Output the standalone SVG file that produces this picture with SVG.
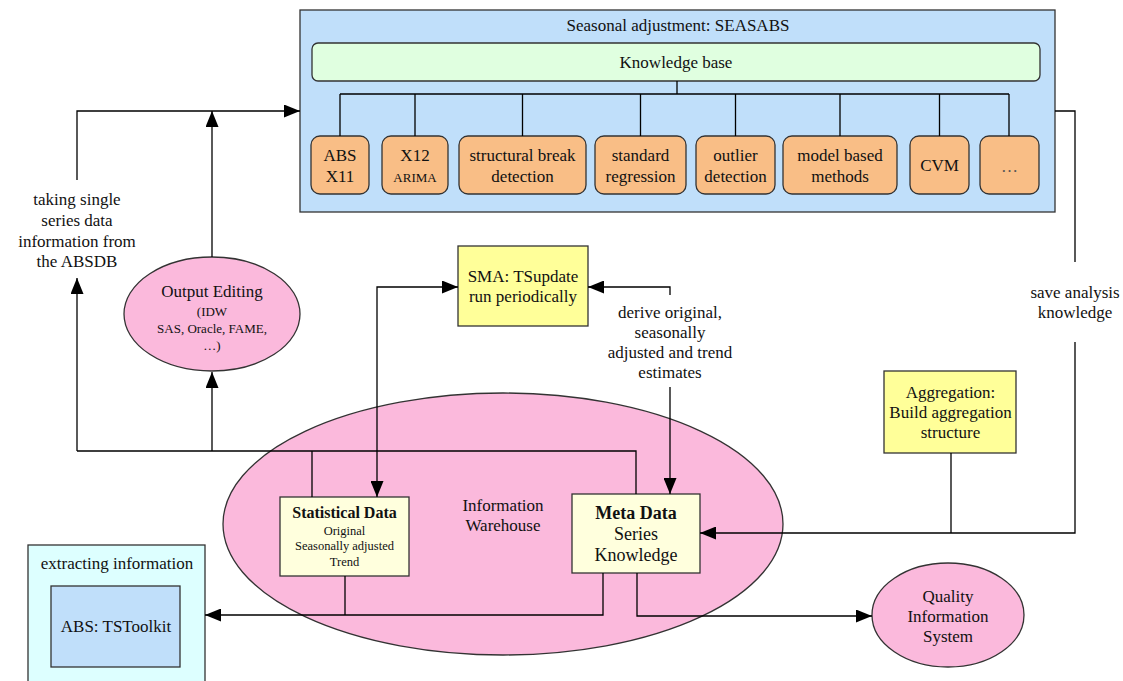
<svg xmlns="http://www.w3.org/2000/svg" width="1123" height="681" viewBox="0 0 1123 681">
<defs>
<marker id="ah" markerUnits="userSpaceOnUse" markerWidth="16" markerHeight="13" refX="16" refY="6.5" orient="auto-start-reverse" viewBox="0 0 16 13">
<path d="M0,0 L16,6.5 L0,13 z" fill="#000"/>
</marker>
</defs>
<style>
text{font-family:"Liberation Serif","Times New Roman",serif;font-size:17px;fill:#111;text-anchor:middle}
.sm{font-size:13px}
.xs{font-size:12.5px}
.b{font-weight:bold}
.box{stroke:#333;stroke-width:1.3}
.blue{fill:#c0dffa}
.orange{fill:#f9be86}
.pink{fill:#fbb9dc}
.yellow{fill:#ffff99}
.cream{fill:#ffffdd}
.cyan{fill:#ddffff}
.green{fill:#e0ffe0}
.ln{fill:none;stroke:#000;stroke-width:1.3}
.arr{marker-end:url(#ah)}
</style>
<rect width="1123" height="681" fill="#fff"/>

<g id="seasabs">
<rect class="box blue" x="300" y="10" width="755" height="202"/>
<text x="678" y="31">Seasonal adjustment: SEASABS</text>
</g>
<g id="knowledge-base">
<rect class="box green" x="312" y="43" width="728" height="38" rx="6"/>
<text x="676" y="68">Knowledge base</text>
</g>
<g id="abs-x11">
<rect class="box orange" x="311" y="136" width="58" height="58" rx="9"/>
<text x="340" y="161">ABS</text><text x="340" y="182">X11</text>
</g>
<g id="x12-arima">
<rect class="box orange" x="382" y="136" width="66" height="58" rx="9"/>
<text x="415" y="161">X12</text><text class="sm" x="415" y="182">ARIMA</text>
</g>
<g id="structural-break">
<rect class="box orange" x="459" y="136" width="127" height="58" rx="9"/>
<text x="522.5" y="161">structural break</text><text x="522.5" y="182">detection</text>
</g>
<g id="standard-regression">
<rect class="box orange" x="595" y="136" width="91" height="58" rx="9"/>
<text x="640.5" y="161">standard</text><text x="640.5" y="182">regression</text>
</g>
<g id="outlier-detection">
<rect class="box orange" x="696" y="136" width="79" height="58" rx="9"/>
<text x="735.5" y="161">outlier</text><text x="735.5" y="182">detection</text>
</g>
<g id="model-based">
<rect class="box orange" x="783" y="136" width="114" height="58" rx="9"/>
<text x="840" y="161">model based</text><text x="840" y="182">methods</text>
</g>
<g id="cvm">
<rect class="box orange" x="910" y="136" width="59" height="58" rx="9"/>
<text x="939.5" y="171">CVM</text>
</g>
<g id="more">
<rect class="box orange" x="980" y="136" width="59" height="58" rx="9"/>
<text x="1009.5" y="172" style="fill:#555">…</text>
</g>

<g id="output-editing">
<ellipse class="box pink" cx="212" cy="314" rx="88" ry="57"/>
<text x="212" y="297">Output Editing</text>
<text class="sm" x="212" y="316">(IDW</text>
<text class="sm" x="212" y="333">SAS, Oracle, FAME,</text>
<text class="sm" x="212" y="350">…)</text>
</g>

<g id="sma">
<rect class="box yellow" x="458" y="246" width="130" height="80"/>
<text x="523" y="282">SMA: TSupdate</text>
<text x="523" y="302">run periodically</text>
</g>

<g id="aggregation">
<rect class="box yellow" x="884" y="371" width="132" height="82"/>
<text x="950.5" y="398">Aggregation:</text>
<text x="950.5" y="418">Build aggregation</text>
<text x="950.5" y="438">structure</text>
</g>

<g id="information-warehouse">
<ellipse class="box pink" cx="503" cy="524" rx="280" ry="131"/>
<text x="503" y="511">Information</text>
<text x="503" y="531">Warehouse</text>
</g>

<g id="statistical-data">
<rect class="box cream" x="280" y="497" width="129" height="79"/>
<text class="b" x="344.5" y="518" style="font-size:16px">Statistical Data</text>
<text class="xs" x="344.5" y="535">Original</text>
<text class="xs" x="344.5" y="550">Seasonally adjusted</text>
<text class="xs" x="344.5" y="566">Trend</text>
</g>

<g id="meta-data">
<rect class="box cream" x="572" y="494" width="128" height="79"/>
<text class="b" x="636" y="519" style="font-size:18px">Meta Data</text>
<text x="636" y="540" style="font-size:18px">Series</text>
<text x="636" y="561" style="font-size:18px">Knowledge</text>
</g>

<g id="quality-information-system">
<ellipse class="box pink" cx="948" cy="615" rx="76" ry="52"/>
<text x="948" y="602">Quality</text>
<text x="948" y="622">Information</text>
<text x="948" y="642">System</text>
</g>

<g id="extracting-information">
<rect class="box cyan" x="28" y="545" width="177" height="145"/>
<text x="117" y="569">extracting information</text>
</g>
<g id="tstoolkit">
<rect class="box blue" x="51" y="586" width="129" height="81"/>
<text x="116" y="632">ABS: TSToolkit</text>
</g>

<g id="connectors">
<path class="ln" d="M677,81 V94 M340,94 H1009 M340,94 V136 M415,94 V136 M522.5,94 V136 M640.5,94 V136 M735.5,94 V136 M840,94 V136 M939.5,94 V136 M1009,94 V136"/>
<path class="ln arr" d="M77,180 V111 H300"/>
<path class="ln arr" d="M212,257 V111"/>
<path class="ln" d="M77,451 H636 V494 M312,451 V497"/>
<path class="ln arr" d="M77,451 V278"/>
<path class="ln arr" d="M212,451 V372"/>
<path class="ln arr" d="M377,497 V287 H458" style="marker-start:url(#ah)"/>
<path class="ln arr" d="M670,295 V287 H588"/>
<path class="ln arr" d="M670,387 V494"/>
<path class="ln" d="M1055,111 H1075 V262"/>
<path class="ln arr" d="M1075,342 V533 H700"/>
<path class="ln" d="M951,453 V533"/>
<path class="ln arr" d="M603,573 V615 H205"/>
<path class="ln" d="M345,576 V615"/>
<path class="ln arr" d="M637,573 V616 H872"/>
</g>

<g id="labels">
<text x="77" y="205">taking single</text>
<text x="77" y="226">series data</text>
<text x="77" y="247">information from</text>
<text x="77" y="267">the ABSDB</text>
<text x="670" y="318">derive original,</text>
<text x="670" y="338">seasonally</text>
<text x="670" y="358">adjusted and trend</text>
<text x="670" y="378">estimates</text>
<text x="1075" y="298">save analysis</text>
<text x="1075" y="318">knowledge</text>
</g>
</svg>
